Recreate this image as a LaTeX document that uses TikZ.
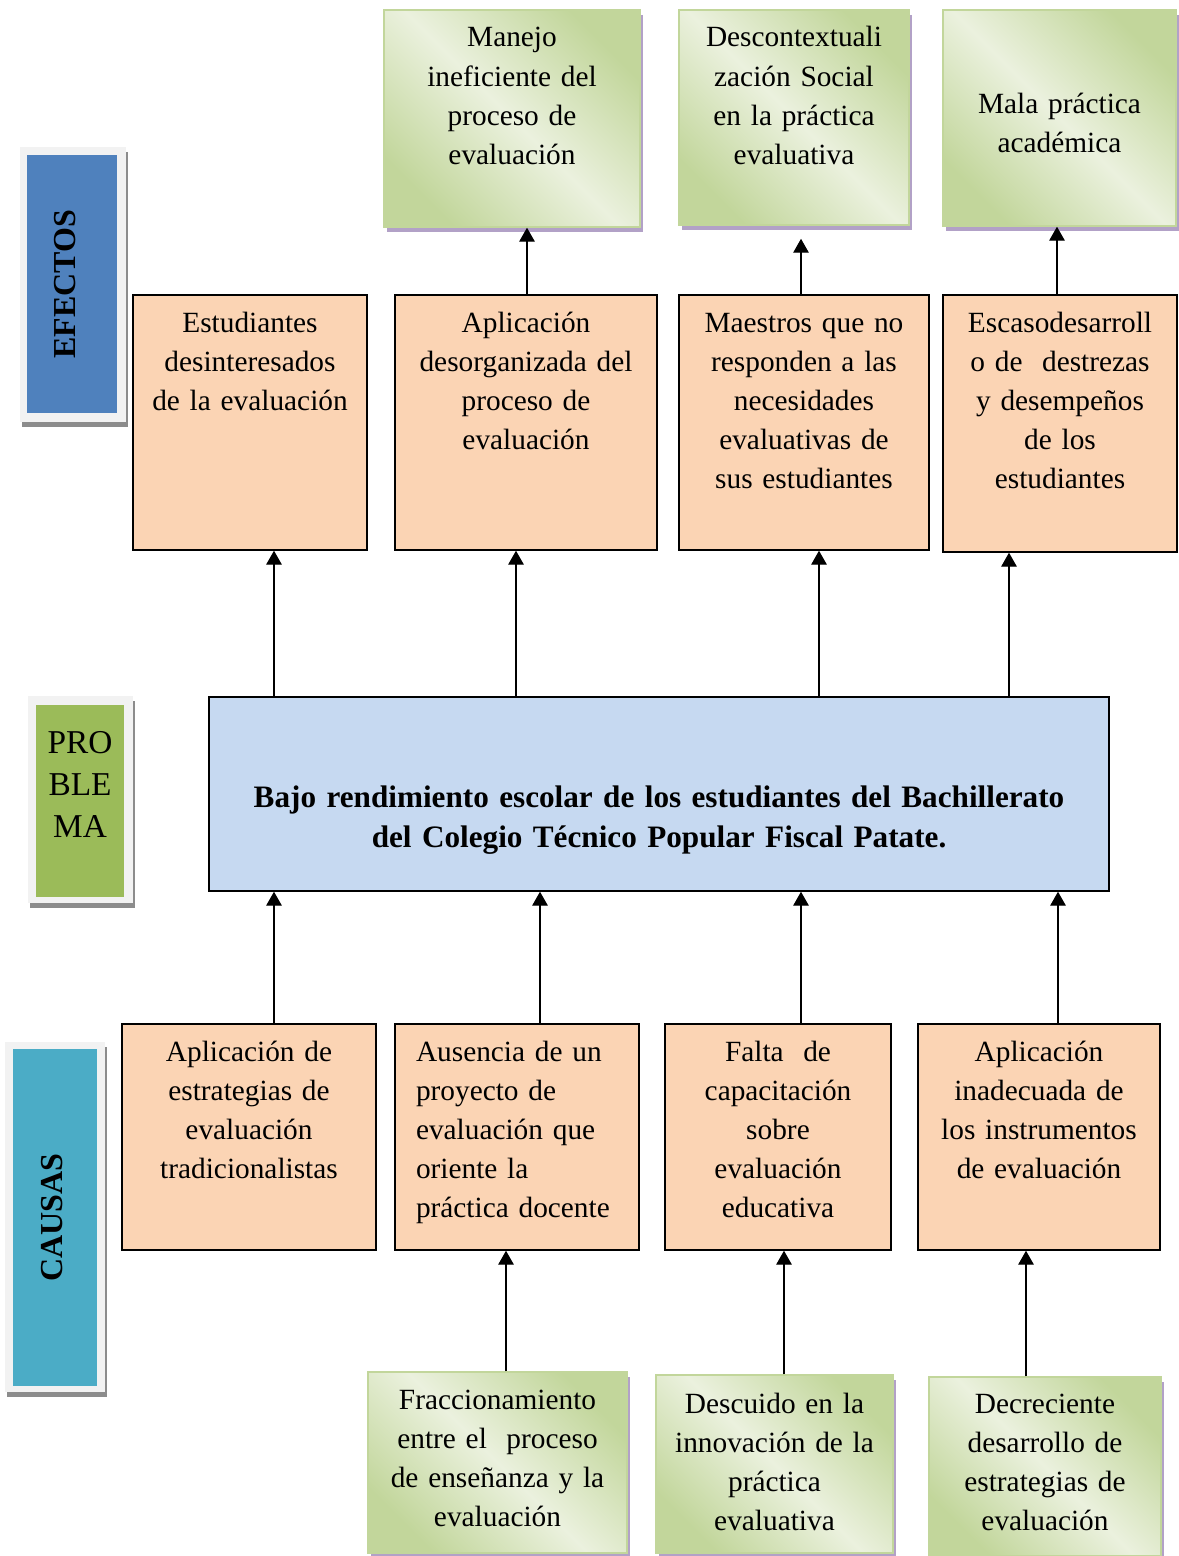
\documentclass[tikz,border=0pt]{standalone}
\usepackage{fontspec}
\setmainfont{Liberation Serif}
\usetikzlibrary{arrows.meta,shadows}

\definecolor{naranja}{HTML}{FBD4B4}
\definecolor{celeste}{HTML}{C6D9F1}
\definecolor{azulef}{HTML}{4F81BD}
\definecolor{verdepr}{HTML}{9BBB59}
\definecolor{turquesa}{HTML}{4BACC6}
\definecolor{marcogris}{HTML}{F2F2F2}
\definecolor{verdeosc}{HTML}{C2D69B}
\definecolor{verdecla}{HTML}{EBF1DE}
\definecolor{morado}{HTML}{B2A1C7}

\begin{document}
\begin{tikzpicture}[x=0.375pt,y=-0.375pt]
\tikzstyle{caja}=
[
	draw=black, line width=0.55pt, inner sep=0pt, align=center,
	text height=13.875pt, font=\fontsize{11pt}{14.7pt}\selectfont
]
\tikzstyle{naranjo}=[caja, fill=naranja]
\tikzstyle{verde}=
[
	caja, draw=verdeosc, top color=verdeosc, bottom color=verdeosc,
	middle color=verdecla, shading angle=-45,
	drop shadow={shadow xshift=1.1pt, shadow yshift=-1.9pt, fill=morado, opacity=1}
]
\tikzstyle{marco}=
[
	fill=marcogris, inner sep=0pt,
	drop shadow={shadow xshift=0.9pt, shadow yshift=-1.8pt, fill=black!45, opacity=1}
]
\tikzstyle{lado}=[inner sep=0pt, align=center, font=\fontsize{12pt}{14pt}\selectfont]
\tikzstyle{arr}=[-{Triangle[width=5.8pt,length=5.2pt]}, line width=0.45pt]
\tikzset{tam/.style n args={3}{minimum width=#1, text width=#1, minimum height=#2, text depth=#3}}

\useasboundingbox (0,0) rectangle (1178,1556);

\node[marco, minimum width=39.75pt, minimum height=103.125pt] (mefectos) at (73,284.5) {};
\node[lado, fill=azulef, minimum width=33.75pt, minimum height=96.75pt] (efectos) at (72,284)
	{\rotatebox{90}{\bfseries EFECTOS}\hspace{5.2pt}};
\node[marco, minimum width=39.375pt, minimum height=77.625pt] (mproblema) at (80.5,799.5) {};
\node[lado, fill=verdepr, text width=33pt, text height=18pt, text depth=54pt,
	font=\fontsize{12.5pt}{15.75pt}\selectfont] (problema) at (80,801) {PRO\\BLE\\MA};
\node[marco, minimum width=37.5pt, minimum height=131.25pt] (mcausas) at (55,1217) {};
\node[lado, fill=turquesa, minimum width=31.5pt, minimum height=126.375pt] (causas) at (55,1217.5)
	{\rotatebox{90}{\bfseries CAUSAS}\hspace{2.2pt}};

\node[verde, tam={96pt}{81.375pt}{67.5pt}] (g1) at (512,118.5)
	{Manejo\\ineficiente del\\proceso de\\evaluación};
\node[verde, tam={86.25pt}{80.625pt}{66.75pt}] (g2) at (794,117.5)
	{Descontextuali\\zación Social\\en la práctica\\evaluativa};
\node[verde, tam={87.375pt}{81pt}{42.375pt}, text height=38.625pt] (g3) at (1059.5,118)
	{Mala práctica\\académica};

\node[naranjo, tam={87.75pt}{95.625pt}{81.75pt}] (e1) at (250,422.5)
	{Estudiantes\\desinteresados\\de la evaluación};
\node[naranjo, tam={98.25pt}{95.625pt}{81.75pt}] (e2) at (526,422.5)
	{Aplicación\\desorganizada del\\proceso de\\evaluación};
\node[naranjo, tam={93.75pt}{95.625pt}{81.75pt}] (e3) at (804,422.5)
	{Maestros que no\\responden a las\\necesidades\\evaluativas de\\sus estudiantes};
\node[naranjo, tam={87.75pt}{96.375pt}{82.5pt}] (e4) at (1060,423.5)
	{Escasodesarroll\\o de~~destrezas\\y desempeños\\de los\\estudiantes};

\node[caja, fill=celeste, tam={337.5pt}{72.75pt}{31.5pt}, text height=41.25pt,
	font=\fontsize{11.7pt}{15pt}\selectfont\bfseries] (p) at (659,794)
	{Bajo rendimiento escolar de los estudiantes del Bachillerato\\del Colegio Técnico Popular Fiscal Patate.};

\node[naranjo, tam={95.25pt}{84.75pt}{70.875pt}] (c1) at (249,1137)
	{Aplicación de\\estrategias de\\evaluación\\tradicionalistas};
\node[naranjo, tam={91.5pt}{84.75pt}{70.875pt}, text width=75.75pt, inner xsep=7.875pt, align=left] (c2) at (517,1137)
	{Ausencia de un\\proyecto de\\evaluación que\\oriente la\\práctica docente};
\node[naranjo, tam={84.75pt}{84.75pt}{70.875pt}] (c3) at (778,1137)
	{Falta~~de\\capacitación\\sobre\\evaluación\\educativa};
\node[naranjo, tam={90.75pt}{84.75pt}{70.875pt}] (c4) at (1039,1137)
	{Aplicación\\inadecuada de\\los instrumentos\\de evaluación};

\node[verde, tam={97.125pt}{67.875pt}{54pt}] (b1) at (497.5,1462.5)
	{Fraccionamiento\\entre el~~proceso\\de enseñanza y la\\evaluación};
\node[verde, tam={88.875pt}{66.75pt}{52.5pt}, text height=14.25pt] (b2) at (774.5,1464)
	{Descuido en la\\innovación de la\\práctica\\evaluativa};
\node[verde, tam={87pt}{67.125pt}{53.625pt}, text height=13.5pt] (b3) at (1045,1466.5)
	{Decreciente\\desarrollo de\\estrategias de\\evaluación};

\draw[arr] ([xshift=9pt]e1.south |- p.north) -- ([xshift=9pt]e1.south);
\draw[arr] ([xshift=-3.75pt]e2.south |- p.north) -- ([xshift=-3.75pt]e2.south);
\draw[arr] ([xshift=5.625pt]e3.south |- p.north) -- ([xshift=5.625pt]e3.south);
\draw[arr] ([xshift=-19.125pt]e4.south |- p.north) -- ([xshift=-19.125pt]e4.south);

\draw[arr] ([xshift=5.625pt]g1.south |- e2.north) -- ([xshift=5.625pt]g1.south);
\draw[arr, shorten >=4.9pt] ([xshift=2.625pt]g2.south |- e3.north) -- ([xshift=2.625pt]g2.south);
\draw[arr] ([xshift=-0.94pt]g3.south |- e4.north) -- ([xshift=-0.94pt]g3.south);

\draw[arr] ([xshift=9.375pt]c1.north) -- ([xshift=9.375pt]c1.north |- p.south);
\draw[arr] ([xshift=8.625pt]c2.north) -- ([xshift=8.625pt]c2.north |- p.south);
\draw[arr] ([xshift=8.625pt]c3.north) -- ([xshift=8.625pt]c3.north |- p.south);
\draw[arr] ([xshift=7.125pt]c4.north) -- ([xshift=7.125pt]c4.north |- p.south);

\draw[arr] ([xshift=3.19pt]b1.north) -- ([xshift=3.19pt]b1.north |- c2.south);
\draw[arr] ([xshift=3.56pt]b2.north) -- ([xshift=3.56pt]b2.north |- c3.south);
\draw[arr] ([xshift=-7.125pt]b3.north) -- ([xshift=-7.125pt]b3.north |- c4.south);
\end{tikzpicture}
\end{document}
